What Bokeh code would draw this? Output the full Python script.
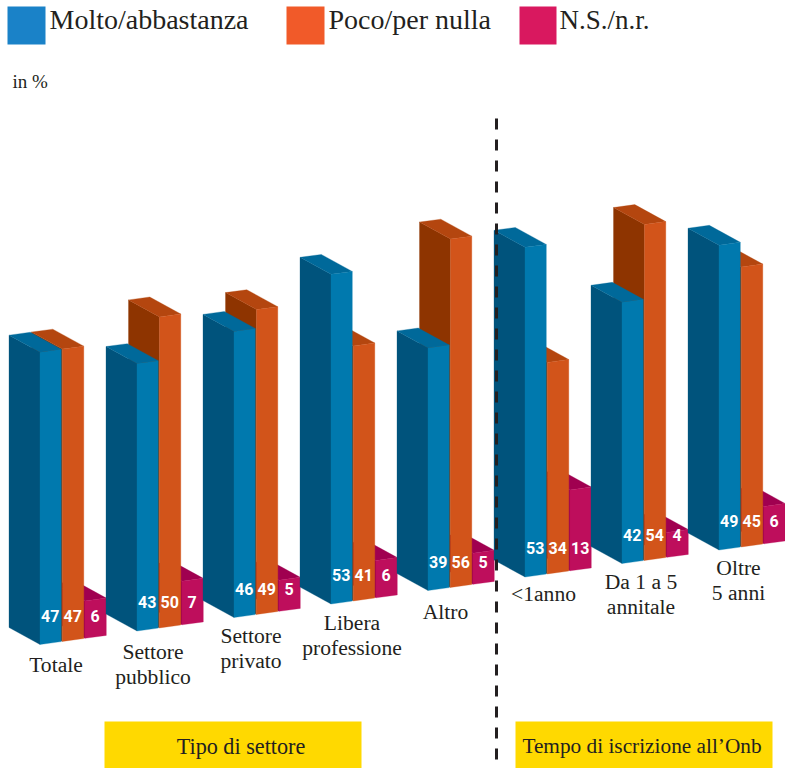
from bokeh.plotting import figure
from bokeh.models import Range1d, ColumnDataSource
from bokeh.core.properties import value
from bokeh.embed import file_html
from bokeh.resources import INLINE

# ---- data ----
categories = [["Totale"], ["Settore", "pubblico"], ["Settore", "privato"], ["Libera", "professione"],
              ["Altro"], ["<1anno"], ["Da 1 a 5", "annitale"], ["Oltre", "5 anni"]]
molto = [47, 43, 46, 53, 39, 53, 42, 49]
poco = [47, 50, 49, 41, 56, 34, 54, 45]
nsnr = [6, 7, 5, 6, 5, 13, 4, 6]
legend_labels = ["Molto/abbastanza", "Poco/per nulla", "N.S./n.r."]
panel_labels = ["Tipo di settore", "Tempo di iscrizione all\u2019Onb"]

# ---- layout ----
SCALE = 6.22
X0, Y0 = 39.5, 644.0
GROUP_DX, GROUP_DY = 97.0, -13.5
BAR_DX, BAR_DY = 22.5, -3.1
W, W_DY = 21.3, -2.9
DEPTH_X, DEPTH_Y = -31.0, -17.0

series_colors = [
    ("#0079AE", "#00537C", "#00699A"),   # front, side, top
    ("#D2541A", "#8E3400", "#B4460F"),
    ("#BE0E5C", "#9E0050", "#A00050"),
]
label_xy = [(55.5, 664), (152.5, 651), (250.5, 635), (351.5, 622), (445, 611), (543, 593), (640.5, 581), (738, 567)]

p = figure(width=785, height=768, output_backend="svg", toolbar_location=None,
           x_range=Range1d(0, 785), y_range=Range1d(768, 0), min_border=0, outline_line_color=None)
p.axis.visible = False
p.grid.visible = False
p.background_fill_color = "white"
p.border_fill_color = "white"

SERIF = value("Liberation Serif")

xs, ys, cs = [], [], []
for g in range(len(molto)):
    vals = [molto[g], poco[g], nsnr[g]]
    for s in (2, 1, 0):
        fx = X0 + g * GROUP_DX + s * BAR_DX
        fy = Y0 + g * GROUP_DY + s * BAR_DY
        h = vals[s] * SCALE
        front, side, top = series_colors[s]
        # side
        xs.append([fx, fx + DEPTH_X, fx + DEPTH_X, fx])
        ys.append([fy, fy + DEPTH_Y, fy + DEPTH_Y - h, fy - h])
        cs.append(side)
        # top
        xs.append([fx, fx + DEPTH_X, fx + DEPTH_X + W, fx + W])
        ys.append([fy - h, fy + DEPTH_Y - h, fy + DEPTH_Y + W_DY - h, fy + W_DY - h])
        cs.append(top)
        # front
        xs.append([fx, fx + W, fx + W, fx])
        ys.append([fy, fy + W_DY, fy + W_DY - h, fy - h])
        cs.append(front)

p.patches("xs", "ys", fill_color="cs", line_color="cs", line_width=0.3,
          source=ColumnDataSource(dict(xs=xs, ys=ys, cs=cs)))

# value labels
nx, ny, nt = [], [], []
for g in range(len(molto)):
    for s, vals in enumerate((molto, poco, nsnr)):
        nx.append(X0 + g * GROUP_DX + s * BAR_DX + W / 2 - 0.5)
        ny.append(615 + g * GROUP_DY)
        nt.append(str(vals[g]))
p.text(nx, ny, text=nt, text_color="white", text_font=value("Roboto"),
       text_font_style="bold", text_font_size="16px", text_align="center", text_baseline="middle")

# category labels
for (lx, ly), lines in zip(label_xy, categories):
    for i, t in enumerate(lines):
        p.text([lx], [ly + i * 25], text=[t], text_color="#231f20", text_font=SERIF,
               text_font_size="21.6px", text_align="center", text_baseline="middle")

# dashed separator
p.segment([496], [118], [496], [768], line_color="#231f20", line_width=3, line_dash="11 10")

# legend
leg_x = [7, 286, 519]
leg_w = [38, 38, 37]
leg_c = ["#1A82C8", "#F15A29", "#D9185F"]
leg_tx = [49, 328, 559]
p.quad(left=leg_x, right=[a + b for a, b in zip(leg_x, leg_w)], top=[6, 6, 6], bottom=[44, 44, 44],
       fill_color=leg_c, line_color=None)
p.text(leg_tx[:2], [19, 19], text=legend_labels[:2], text_color="#231f20", text_font=SERIF,
       text_font_size="28px", text_align="left", text_baseline="middle")
p.text(leg_tx[2:], [19], text=legend_labels[2:], text_color="#231f20", text_font=SERIF,
       text_font_size="27px", text_align="left", text_baseline="middle")
p.text([12], [81], text=["in %"], text_color="#231f20", text_font=SERIF,
       text_font_size="19px", text_align="left", text_baseline="middle")

# panels
p.quad(left=[104, 515], right=[361, 772], top=[721, 721], bottom=[768, 768],
       fill_color="#FFD900", line_color=None)
p.text([240.5], [745.5], text=panel_labels[:1], text_color="#231f20", text_font=SERIF,
       text_font_size="22.2px", text_align="center", text_baseline="middle")
p.text([641.5], [745.5], text=panel_labels[1:], text_color="#231f20", text_font=SERIF,
       text_font_size="21.3px", text_align="center", text_baseline="middle")

open("out.html", "w").write(file_html(p, INLINE))
